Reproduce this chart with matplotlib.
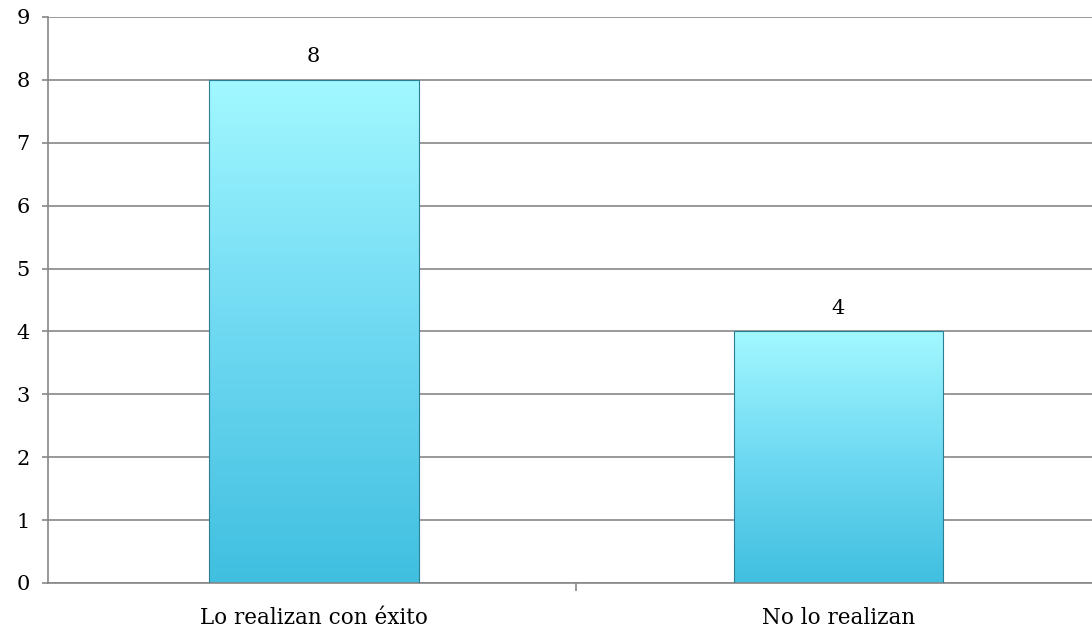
import matplotlib.pyplot as plt
import numpy as np
from matplotlib.colors import LinearSegmentedColormap

categories = ["Lo realizan con éxito", "No lo realizan"]
values = [8, 4]
yticks = list(range(0, 10))

plt.rcParams['font.family'] = ['DejaVu Serif']

fig = plt.figure(figsize=(10.92, 6.31), dpi=100)
ax = fig.add_axes([48 / 1092, 1 - 583 / 631, 1 - 48 / 1092, 566 / 631])

x = np.arange(len(categories))
bars = ax.bar(x, values, width=0.4, color='none', edgecolor='#2b7f95', linewidth=0.8, zorder=3)

# vertical gradient, light cyan at top to deeper blue at bottom
grad = np.linspace(0, 1, 256).reshape(-1, 1)
cmap = LinearSegmentedColormap.from_list('bar', ['#40bfe0', '#6fd9f2', '#a2f8ff'])
for b in bars:
    x0, y0 = b.get_x(), b.get_y()
    w, h = b.get_width(), b.get_height()
    im = ax.imshow(grad, cmap=cmap, aspect='auto', origin='lower',
                   extent=[x0, x0 + w, y0, y0 + h], zorder=2)
    im.set_clip_path(b)
    ax.annotate(str(int(h)), (x0 + w / 2, h), xytext=(0, 10), textcoords='offset points',
                ha='center', va='bottom', fontsize=15, color='black')

ax.set_xlim(-0.506, 1.483)
ax.set_ylim(0, 9)
ax.set_yticks(yticks)
ax.set_xticks(x)
ax.set_xticklabels(categories, fontsize=15.5)
ax.set_xticks([0.5], minor=True)
ax.tick_params(axis='x', which='major', length=0, pad=17)
ax.tick_params(axis='x', which='minor', length=6, color='#888888', width=1.2)
ax.tick_params(axis='y', length=4, color='#888888', width=1.2, labelsize=15, pad=9)

ax.grid(axis='y', color='#888888', linewidth=1.2, zorder=0)
ax.set_axisbelow(True)
for s in ['top', 'right']:
    ax.spines[s].set_visible(False)
for s in ['left', 'bottom']:
    ax.spines[s].set_color('#888888')
    ax.spines[s].set_linewidth(1.2)

fig.savefig('out.png', dpi=100)
